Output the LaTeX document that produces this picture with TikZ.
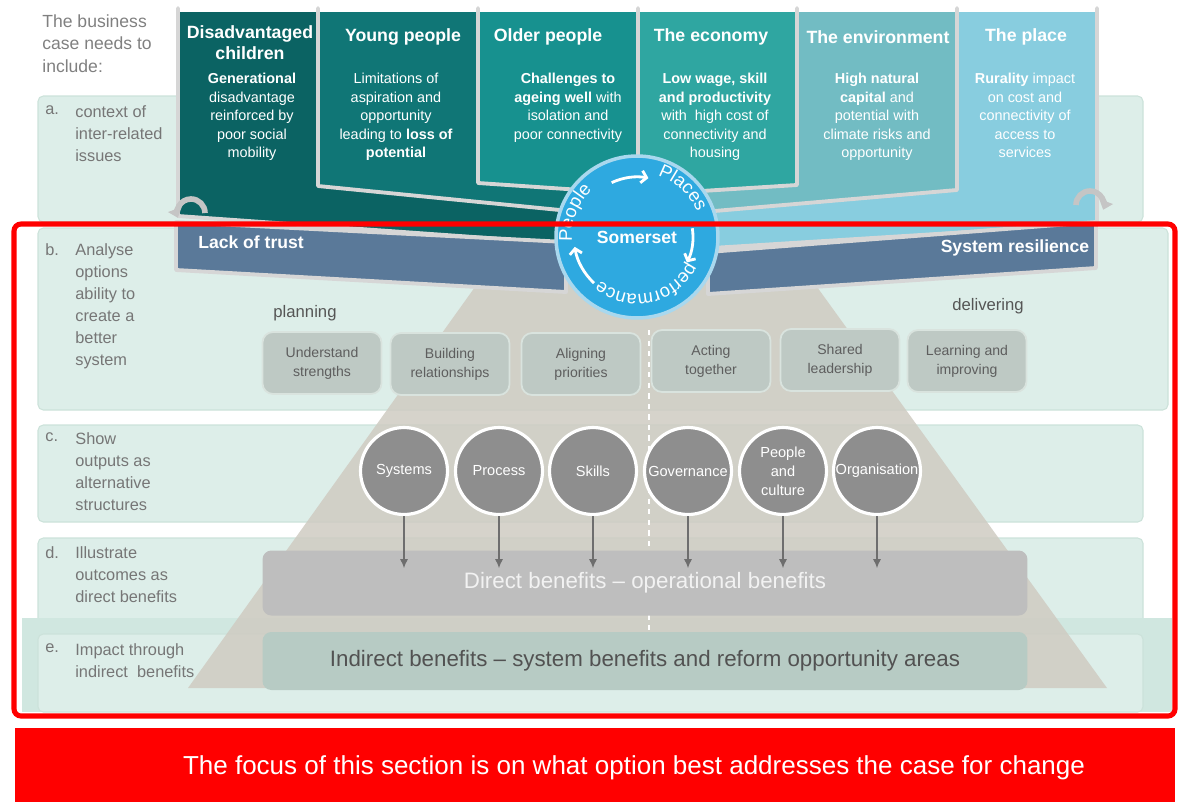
\documentclass[tikz,border=0pt]{standalone}
\usepackage{fontspec}
\setmainfont{Liberation Sans}
\usetikzlibrary{arrows.meta,calc,decorations.text}

\definecolor{rowmint}{HTML}{DDEEE9}
\definecolor{rowline}{HTML}{CCE2DA}
\definecolor{rowdeep}{HTML}{D0E7E0}
\definecolor{labelgrey}{HTML}{767676}
\definecolor{titlegrey}{HTML}{808080}
\definecolor{pyramid}{HTML}{CFCBC2}
\definecolor{stepfill}{HTML}{BEC9C4}
\definecolor{stepline}{HTML}{D9E3DE}
\definecolor{steptext}{HTML}{5E5E5E}
\definecolor{outgrey}{HTML}{8E8E8E}
\definecolor{arrowgrey}{HTML}{6E6E6E}
\definecolor{directgrey}{HTML}{BEBEBE}
\definecolor{indirect}{HTML}{B7CBC4}
\definecolor{hubblue}{HTML}{2EA9E0}
\definecolor{hubedge}{HTML}{A9D8EE}
\definecolor{band}{HTML}{5A7999}
\definecolor{sheetedge}{HTML}{D6D6D6}
\definecolor{colA}{HTML}{0B6363}
\definecolor{colB}{HTML}{107676}
\definecolor{colC}{HTML}{17918F}
\definecolor{colD}{HTML}{2FA6A1}
\definecolor{colE}{HTML}{72BCC3}
\definecolor{colF}{HTML}{88CDDF}

\newcommand{\hubfont}{\color{white}\fontsize{10.5}{11}\selectfont}

\begin{document}
\begin{tikzpicture}[x=0.02cm,y=-0.02cm,>={Latex[length=5pt,width=4.5pt]},
	rowbox/.style={fill=rowmint,draw=rowline,line width=0.6pt,rounded corners=3pt},
	rowlabel/.style={anchor=north west,inner sep=0pt,align=left,text=labelgrey,
		font=\fontsize{9.3}{12.5}\selectfont},
	sheet/.style={draw=sheetedge,line width=2.2pt,line join=round,line cap=round},
	head/.style={text=white,align=center,font=\fontsize{10.1}{12}\selectfont\bfseries},
	body/.style={anchor=north,text=white,align=center,inner sep=0pt,
		font=\fontsize{8.2}{10.5}\selectfont},
	bandtext/.style={text=white,font=\fontsize{10}{12}\selectfont\bfseries},
	hubarrow/.style={white,line width=1.6pt,-{Straight Barb[length=3pt,width=7pt]}},
	recycle/.style={draw=sheetedge!92!black,line width=3.2pt,-{Triangle[length=5pt,width=8pt]}},
	stepbox/.style={fill=stepfill,draw=stepline,line width=1pt,rounded corners=6pt,
		minimum width=2.38cm,minimum height=1.24cm,align=center,text=steptext,
		font=\fontsize{8}{10.8}\selectfont},
	output/.style={circle,fill=outgrey,draw=white,line width=1.8pt,minimum size=1.74cm,
		inner sep=0pt,align=center,text=white,font=\fontsize{8.3}{10.8}\selectfont},
	benefit/.style={rounded corners=5pt,minimum width=15.3cm,align=center,
		font=\fontsize{12.7}{14}\selectfont}]

\useasboundingbox (0,0) rectangle (1178,802);

% row backgrounds
\draw[rowbox] (38,96) rectangle (1143,222);
\draw[rowbox] (38,228) rectangle (1168,410);
\draw[rowbox] (38,425) rectangle (1143,522);
\draw[rowbox] (38,538) rectangle (1143,640);
\fill[rowdeep] (22,618) rectangle (1172,712);
\draw[rowbox] (38,634) rectangle (1143,712);

% pyramid
\fill[pyramid,opacity=0.85] (480,280) -- (812,280) -- (1107,688) -- (188,688) -- cycle;
\draw[white,dashed,line width=0.8pt] (649,330) -- (649,632);

% the six issue sheets
\fill[colA] (178,12) -- (600,12) -- (600,246) -- (178,216) -- cycle;
\draw[sheet] (178,8) -- (178,216) -- (600,246);
\fill[colB] (318,12) -- (600,12) -- (600,214) -- (318,186) -- cycle;
\draw[sheet] (318,8) -- (318,186) -- (600,214);
\fill[colC] (478,12) -- (640,12) -- (640,194) -- (478,183) -- cycle;
\draw[sheet] (478,8) -- (478,183) -- (640,194);
\fill[colF] (1095,12) -- (680,12) -- (680,250) -- (1095,224) -- cycle;
\draw[sheet] (1097,8) -- (1097,224) -- (680,250);
\fill[colE] (957,12) -- (680,12) -- (680,214) -- (957,190) -- cycle;
\draw[sheet] (957,8) -- (957,190) -- (680,214);
\fill[colD] (797,12) -- (637,12) -- (637,195) -- (797,185) -- cycle;
\draw[sheet] (638,8) -- (638,195) -- (797,185) -- (797,8);

\node[head] (hchild) at (250,43) {Disadvantaged\\children};
\node[head] (hyoung) at (403,37) {Young people};
\node[head] (holder) at (548,37) {Older people};
\node[head] (hecon) at (711,37) {The economy};
\node[head] (henv) at (878,37) {The environment};
\node[head] (hplace) at (1026,37) {The place};

\node[body] (bchild) at (252,73) {\textbf{Generational}\\disadvantage\\reinforced by\\poor social\\mobility};
\node[body] (byoung) at (396,73) {Limitations of\\aspiration and\\opportunity\\leading to \textbf{loss of}\\\textbf{potential}};
\node[body] (bolder) at (568,73) {\textbf{Challenges to}\\\textbf{ageing well} with\\isolation and\\poor connectivity};
\node[body] (becon) at (715,73) {\textbf{Low wage, skill}\\\textbf{and productivity}\\with~ high cost of\\connectivity and\\housing};
\node[body] (benv) at (877,73) {\textbf{High natural}\\\textbf{capital} and\\potential with\\climate risks and\\opportunity};
\node[body] (bplace) at (1025,73) {\textbf{Rurality} impact\\on cost and\\connectivity of\\access to\\services};

% bands
\filldraw[sheet,fill=band] (176,222) -- (566,242) -- (566,292) -- (176,270) -- cycle;
\filldraw[sheet,fill=band] (708,252) -- (1096,222) -- (1096,268) -- (708,294) -- cycle;
\node[bandtext] (trust) at (251,242) {Lack of trust};
\node[bandtext] (resil) at (1015,248) {System resilience};

\draw[recycle] ([shift={(0:14)}]191,213) arc[start angle=0,end angle=-200,radius=14];
\draw[recycle] ([shift={(-180:14)}]1090,205) arc[start angle=-180,end angle=20,radius=14];

% Somerset hub
\node[circle,fill=hubblue,draw=hubedge,line width=2pt,minimum size=3.24cm,
	text=white,font=\fontsize{10}{12}\selectfont\bfseries] (hub) at (637,237) {Somerset};
\path[decorate,decoration={text along path,text align=center,text={|\hubfont|People}}]
	([shift={(-200:65)}]hub.center) arc[start angle=-200,end angle=-118,radius=65];
\path[decorate,decoration={text along path,text align=center,text={|\hubfont|Places}}]
	([shift={(-74:65)}]hub.center) arc[start angle=-74,end angle=-20,radius=65];
\path[decorate,decoration={text along path,text align=center,text={|\hubfont|performance}}]
	([shift={(16:57)}]hub.center) arc[start angle=16,end angle=140,radius=57];
\draw[hubarrow] ([shift={(-115:60)}]hub.center) arc[start angle=-115,end angle=-79,radius=60];
\draw[hubarrow] ([shift={(-9:56)}]hub.center) arc[start angle=-9,end angle=27,radius=56];
\draw[hubarrow] ([shift={(-227:63)}]hub.center) arc[start angle=-227,end angle=-189,radius=63];

% planning / delivering
\node[text=steptext!90!black,font=\fontsize{9.5}{11}\selectfont] (plan) at (305,313) {planning};
\node[text=steptext!90!black,font=\fontsize{9.5}{11}\selectfont] (deliv) at (988,306) {delivering};

\node[stepbox] (under) at (322,363) {Understand\\strengths};
\node[stepbox] (build) at (450,364) {Building\\relationships};
\node[stepbox] (align) at (581,364) {Aligning\\priorities};
\node[stepbox] (act) at (711,361) {Acting\\together};
\node[stepbox] (share) at (840,360) {Shared\\leadership};
\node[stepbox] (learn) at (967,361) {Learning and\\improving};

% benefits
\node[benefit,fill=directgrey,minimum height=1.3cm,text=white!95!black] (direct) at (645,583)
	{Direct benefits -- operational benefits};
\node[benefit,fill=indirect,minimum height=1.16cm,text=black!68] (indir) at (645,661)
	{Indirect benefits -- system benefits and reform opportunity areas};

% alternative structures
\coordinate (tipline) at (0,568);
\foreach \x/\t/\n in {404/Systems/sys,499/Process/pro,593/Skills/ski,
	688/Governance/gov,783/{People\\and\\culture}/peo,877/Organisation/org}{
	\node[output] (\n) at (\x,471) {\t};
	\draw[->,arrowgrey,line width=0.6pt] (\n.south) -- (\n.south |- tipline);
}

% row labels
\node[rowlabel,text=titlegrey,font=\fontsize{10}{13}\selectfont] (intro) at (42,14)
	{The business\\case needs to\\include:};
\node[rowlabel] (la) at (45,105) {a.};
\node[rowlabel] (ta) at (75,105) {context of\\inter-related\\issues};
\node[rowlabel] (lb) at (45,243) {b.};
\node[rowlabel] (tb) at (75,243) {Analyse\\options\\ability to\\create a\\better\\system};
\node[rowlabel] (lc) at (45,432) {c.};
\node[rowlabel] (tc) at (75,432) {Show\\outputs as\\alternative\\structures};
\node[rowlabel] (ld) at (45,546) {d.};
\node[rowlabel] (td) at (75,546) {Illustrate\\outcomes as\\direct benefits};
\node[rowlabel] (le) at (45,643) {e.};
\node[rowlabel] (te) at (75,643) {Impact through\\indirect~ benefits};

% focus frame and banner
\draw[red,line width=2.9pt,rounded corners=4pt] (14,224) rectangle (1175,716);
\fill[red] (15,728) rectangle (1175,802);
\node[text=white,font=\fontsize{14.8}{16}\selectfont] (focus) at (634,768)
	{The focus of this section is on what option best addresses the case for change};

\end{tikzpicture}
\end{document}
